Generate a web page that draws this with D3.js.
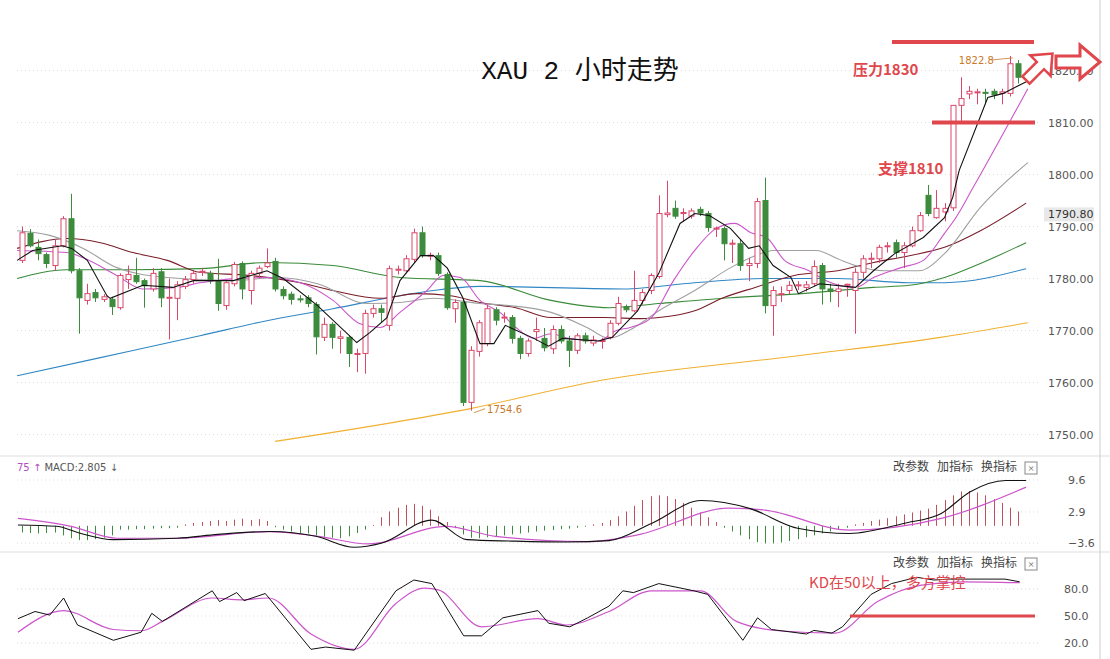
<!DOCTYPE html>
<html><head><meta charset="utf-8">
<script src="https://cdn.jsdelivr.net/npm/d3@7/dist/d3.min.js"></script>
<style>body{margin:0;background:#fff}svg{display:block}</style>
</head><body>
<svg id="c" width="1110" height="659"></svg>
<script>
// ---- DATA ----
const candles = [ // [open, high, low, close]
[1783.5,1790,1783,1788.8],[1788.7,1789.5,1786,1786.3],[1786,1787.5,1783.5,1784.8],[1784.6,1785,1782,1782.9],
[1782.5,1787.5,1781.5,1786.3],[1786.3,1792,1786,1791.5],[1791.5,1796.3,1781,1781.5],[1781.5,1782,1769.4,1776.3],
[1775.8,1779,1775,1777.1],[1777.3,1778,1775.5,1776.3],[1776,1777,1775.5,1776.5],[1776,1776.5,1773,1774.6],
[1774.4,1781,1774,1780.6],[1779.8,1782.5,1778,1780.8],[1780.6,1784,1779,1779.4],[1779.6,1780,1774.4,1778.6],
[1778,1782,1777.5,1781],[1781.3,1782,1774.5,1776.3],[1776.2,1780,1768.3,1776.4],[1776.2,1779.5,1772,1778.8],
[1778.5,1780.5,1778,1779.8],[1779.8,1781.5,1779,1781],[1781.2,1782,1780.5,1781.4],[1781,1781.5,1779,1779.6],
[1779.6,1783.8,1773.8,1775.2],[1774.8,1779.5,1774,1779.2],[1779,1783.2,1778.5,1782.7],[1782.9,1783.3,1776,1778],
[1777.7,1781.5,1775,1781],[1781,1782.5,1780,1782],[1782.3,1785.8,1782,1783],[1783.3,1784,1777.5,1778],
[1777.9,1778.5,1776,1776.7],[1777,1777.5,1775,1776],[1776.1,1776.8,1775.4,1776],[1776.3,1776.8,1774.5,1775.2],
[1775,1775.5,1765.4,1768.8],[1768.7,1772.5,1768,1771.2],[1771.2,1771.6,1766.5,1768.7],[1768.5,1770,1765.6,1768.8],
[1768.7,1769,1763,1765.6],[1765.4,1766.5,1762,1765.6],[1765.6,1774,1761.7,1773.3],[1773.3,1775,1772.5,1774.2],
[1774.2,1775,1771.5,1773.5],[1771,1782.5,1770,1781.9],[1781.6,1782.5,1780.8,1781.8],[1781.5,1784.5,1781,1783.8],
[1783.7,1789.6,1783,1788.8],[1788.8,1790,1784,1784.4],[1784.3,1785,1783.5,1784.5],[1784.4,1785,1780.5,1781],
[1780.8,1781.2,1774,1774.4],[1774.2,1776,1771.5,1775.4],[1775.4,1776,1755.5,1756.2],[1756.2,1767,1754.6,1766.2],
[1766,1772,1765,1771.5],[1767.5,1775,1767,1774.2],[1774,1774.5,1771,1772],[1772.4,1773.5,1771.5,1772.6],
[1772.5,1773,1767.5,1768.5],[1768.5,1769,1764.5,1765.6],[1765.6,1768.5,1765,1768],[1769.8,1772.5,1768,1770.2],
[1768.5,1770.5,1766,1766.7],[1766.5,1771,1765.5,1770.2],[1770.2,1771,1767.5,1768],[1768,1769,1763,1766.2],
[1766.2,1769.5,1765.5,1769],[1769,1769.6,1767.5,1768],[1767.6,1769,1767,1768.2],[1767.9,1768.6,1766.5,1768.1],
[1768.7,1772,1768.3,1771.4],[1771.4,1776.5,1771,1775.2],[1774.6,1775,1773.5,1774],[1773.8,1781.5,1773.5,1775.8],
[1775.8,1778,1775,1777.3],[1777.7,1781,1777,1780.6],[1780.4,1796,1780,1792.5],[1792.3,1798.8,1791.8,1792.6],
[1793.5,1795,1791.5,1792],[1792.5,1793.5,1791,1792.7],[1792,1793.5,1791.5,1793],[1793.3,1793.8,1792,1792.6],
[1792.5,1793,1789,1789.8],[1789.5,1790,1788,1789.7],[1789.6,1790,1783.5,1786.7],[1786.6,1787.5,1783,1786.8],
[1786.7,1787.5,1781.5,1782.5],[1782.5,1784,1779.5,1782.9],[1782.9,1795.5,1782,1794.8],[1795,1799.4,1773.3,1774.8],
[1774.8,1778.5,1769,1777.7],[1777,1778.5,1775.5,1777.1],[1777.7,1779.5,1777,1778.7],[1778.6,1779.5,1777.8,1778.8],
[1778.3,1779.5,1777.5,1778.8],[1779,1783.5,1778.5,1782.3],[1782.5,1783,1775,1778],[1778,1779,1775.5,1777.5],
[1777.5,1779,1774.5,1778],[1778.7,1779,1776.5,1778.9],[1777.7,1782,1769.4,1781.2],[1781.2,1784.5,1780,1783.8],
[1783.7,1785,1782,1783.9],[1783.8,1786.5,1783,1786],[1786.2,1787,1785,1786.3],[1786.9,1787.5,1784,1785],
[1785,1787,1782,1786.3],[1786.3,1790,1786,1789.2],[1789.2,1792.8,1789,1792.1],[1796,1798,1792,1792.5],
[1791.7,1797,1791.5,1793.5],[1792.8,1794.5,1791,1793.5],[1793.6,1813.3,1793,1813.3],[1813.3,1818.7,1810,1814.6],
[1815.5,1817,1814.5,1816],[1815.7,1816.5,1813.5,1815.9],[1815.8,1816.5,1813.5,1815.7],[1816,1816.5,1814.5,1815.3],
[1815.6,1816.5,1813.5,1815.9],[1815.6,1822.8,1815,1821.3],[1821.3,1822,1817.5,1818.7]
];
const ma5 = [[-0.6,1783.5],[1.3,1785.4],[4.9,1786.3],[6.1,1785.8],[8,1783.5],[10.4,1776.7],[10.8,1776.2],[14.8,1778.7],[18.5,1778.3],[21,1779.6],[25.9,1779.6],[30,1781.5],[32,1780],[36.2,1774.8],[41,1767.7],[42.6,1769.6],[44.7,1772.5],[46.3,1779.6],[48.8,1784.4],[50.4,1784.4],[52.1,1782],[54,1776.3],[56.1,1767.5],[57.8,1767.5],[59.2,1771],[62.7,1768.5],[64.5,1767],[66.2,1768.5],[70.6,1768],[72.3,1768.7],[75.4,1773.8],[78,1781],[80.6,1790.6],[82.4,1792.5],[84.2,1792.1],[86.8,1789.6],[89,1785.8],[90.3,1786.3],[92,1782.5],[94.2,1780.2],[95.1,1777.1],[97.7,1779],[102.1,1778.3],[104.3,1781.5],[106.9,1784.8],[110.4,1787.9],[113,1791.7],[114,1795.6],[114.8,1800.8],[118.3,1814.8],[120.2,1815.6],[123.2,1818]];
const ma10 = [[-0.6,1785.4],[5.5,1785],[7.5,1784],[11.6,1780.6],[14.8,1778],[19,1778.3],[21.8,1779.2],[30,1780.2],[34.1,1779.2],[38.1,1775.8],[41.4,1771.3],[43.9,1770.6],[46.3,1773.5],[49.6,1777.7],[51.6,1780.6],[53.7,1780.2],[56.1,1775.8],[58.7,1773.3],[60.5,1770.6],[62.7,1768.5],[64.8,1769.4],[67,1768.5],[70.6,1768],[72.8,1770],[74.5,1770.6],[77.1,1772.5],[79.8,1779.6],[82.4,1785.4],[85,1789.6],[87.3,1790.6],[89.3,1788.8],[91.2,1787.9],[93.4,1783.5],[96.4,1781.5],[98.5,1779.6],[102.1,1778.3],[104.3,1780.2],[107.7,1782.1],[110.4,1783.5],[113,1788.7],[114.3,1791.5],[116.5,1797.5],[123.2,1816.5]];
const ma20 = [[-0.6,1789.2],[3.4,1788.3],[7.5,1785.8],[11.6,1782.1],[17.8,1780.2],[25.9,1779.6],[31.3,1780.2],[36.2,1779],[42.3,1775.2],[46.3,1775.4],[50.4,1776.2],[56.1,1775.2],[59.7,1774.8],[64.8,1773.5],[69.2,1770.6],[71.9,1768.5],[75,1770.6],[78,1773.8],[82.4,1777.7],[86.8,1782.1],[89.8,1784.4],[92,1785.4],[97.3,1785.4],[99.9,1783.8],[102.1,1782.5],[105.6,1781.5],[109.9,1781.5],[113,1784.8],[117.4,1793.7],[123.2,1802.3]];
const ma30 = [[-0.6,1785.8],[5.5,1787.7],[9.6,1786.9],[13.6,1785],[17.8,1783.5],[21.8,1781.2],[27.9,1780.6],[34.1,1779.2],[38.1,1777.7],[43.9,1776.2],[48.4,1777.1],[52.5,1776.7],[56.1,1775.4],[60.5,1774.4],[64.8,1772.5],[71.4,1772.5],[75.9,1772.3],[78,1772.5],[82.4,1773.8],[85.9,1776.3],[89.8,1778.3],[94.6,1780.6],[99.9,1781.5],[104.3,1783.1],[108.7,1784.4],[113,1786],[117.4,1789.2],[123,1794.5]];
const ma60 = [[-0.6,1780],[5.5,1781.7],[13.6,1781.7],[21.8,1781.9],[30,1783.1],[38.1,1782.5],[46.3,1780.2],[56.1,1779.6],[64.8,1775.8],[71.9,1774.4],[78,1775.2],[86.8,1776.3],[95.5,1777.1],[104.3,1778.3],[108.7,1778.7],[113,1780.2],[117.4,1782.9],[123,1786.9]];
const ma120 = [[-0.6,1761.3],[9.6,1764.8],[21.8,1769],[30,1771.9],[38.1,1774.2],[46.3,1776.7],[50.4,1777.7],[56.1,1778.5],[73.7,1778],[82.4,1779.2],[91.2,1780],[99.9,1780],[108.7,1779.2],[113,1779.2],[123,1781.9]];
const ma250 = [[31,1748.7],[54.9,1755],[70.8,1760.4],[95.3,1765.2],[112.5,1768.7],[123.2,1771.5]];
const priceTicks = [1820,1810,1800,1790,1780,1770,1760,1750];
const lastPrice = 1790.80;
const resistanceLevel = 1825.5;
const supportLevel = 1810;
const macdHist = [-1.4,-1.5,-1.6,-1.5,-1.4,-2.0,-2.6,-3.0,-3.0,-2.8,-2.5,-2.0,-0.8,-0.8,-0.7,-0.7,-0.6,-0.5,-0.5,-0.4,
0.3,0.6,0.8,1.0,1.2,1.0,1.3,1.5,1.2,1.4,1.0,-0.3,-0.8,-1.2,-1.5,-1.6,-2.0,-2.3,-2.5,-2.6,
-2.2,-1.5,-0.8,0.2,1.8,3.0,3.8,4.4,4.6,4.2,3.4,2.0,0.8,-0.5,-1.8,-2.5,-2.6,-2.4,-2.2,-2.0,
-1.8,-1.6,-1.4,-1.2,-1.0,-0.9,-0.7,-0.6,-0.4,-0.2,0.3,0.6,1.2,2.0,3.0,4.2,5.4,6.2,6.4,6.2,
5.6,4.8,3.8,2.8,1.8,0.8,-0.4,-1.2,-2.0,-2.8,-3.4,-3.7,-3.7,-3.5,-3.2,-2.8,-2.4,-2.0,-1.6,-1.2,
-0.8,-0.4,0.3,0.6,1.0,1.3,1.6,2.0,2.4,2.8,3.2,3.6,4.4,5.4,6.4,7.2,7.3,7.0,6.4,5.6,
4.8,3.8,3.0];
const dif = [[-0.5,0.17],[4.2,-0.1],[7,-1.5],[11.2,-2.9],[19,-2.6],[24,-1.8],[30.3,-1.2],[36,-2.2],[40.7,-4.5],[44.1,-3.6],[50.2,1.2],[54.5,-2.9],[60,-3.2],[66.7,-3.4],[71.9,-3.1],[77.1,0.5],[83.2,5.3],[89.2,3.6],[95,-0.5],[101.4,-1.6],[108,0.5],[112.6,2.6],[116.1,7.1],[120.5,9.5],[123,9.5]];
const dea = [[-0.5,1.55],[6,-0.1],[11.6,-2.6],[19,-2.6],[30.3,-1.2],[36.3,-2.2],[42.4,-3.8],[51.9,-0.1],[58,-2.2],[69.3,-3.3],[75.4,-1.9],[86.6,3.7],[91,3.3],[101.4,-0.9],[112.6,1.55],[123,8.1]];
const macdTicks = [9.6,2.9,-3.6];
const kLine = [[-0.5,47],[1.6,55],[3.4,51],[5.1,70],[6.8,40],[11.2,23],[14.6,32],[15.9,53],[17.2,44],[23.3,78],[24.2,66],[26.3,76],[27.2,67],[29.8,75],[35.4,13],[37.2,15.5],[40.7,12],[45.8,78],[48,90],[50.2,86],[54.1,28],[56.3,28],[58.9,48],[63.2,56],[64.5,42],[67.1,38],[69.3,48],[71.9,61],[73.6,78],[74.9,76],[78,86],[82.3,78],[84,74],[88.3,23],[90.1,48],[91.8,35],[96.1,30],[97,34],[99.2,31],[100.5,38],[104,74],[106.5,86],[109.6,93],[111.7,90],[113.5,91],[120.4,91],[122.2,88]];
const dLine = [[-0.5,32],[5.1,56],[11.2,35],[14.6,33.6],[17.2,44],[23.3,70],[26.8,68],[30.2,70],[35.4,30],[40.7,13],[45.8,64],[49.3,81],[51,79],[56.3,38],[63.2,47],[66.7,40],[71.9,55],[77.1,78],[83.1,78],[87.5,44],[92.7,33.6],[99.6,31],[104.8,66],[110,84],[115.2,88],[122.2,87]];
const kdTicks = [80,50,20];

// ---- DRAW ----
const svg = d3.select('#c');
const UP='#d9476a', DN='#3d8b3d';
const x = d3.scaleLinear().domain([0, candles.length-1]).range([22,1018]);
const y = d3.scaleLinear().domain([1750,1820]).range([434.6,70.5]);
const ym = d3.scaleLinear().domain([-3.6,9.6]).range([543,480]);
const yk = d3.scaleLinear().domain([20,80]).range([643,589]);

[456,552].forEach(yy=>svg.append('line').attr('x1',0).attr('x2',1110).attr('y1',yy).attr('y2',yy).attr('stroke','#ddd'));
svg.append('line').attr('x1',1100).attr('x2',1100).attr('y1',0).attr('y2',659).attr('stroke','#ccc');

function grid(scale, ticks){ ticks.forEach(t=>svg.append('line').attr('x1',17).attr('x2',1040).attr('y1',scale(t)).attr('y2',scale(t)).attr('stroke','#ddd').attr('stroke-dasharray','1,3')); }
grid(y, priceTicks); grid(ym, macdTicks); grid(yk, kdTicks);

const ax = svg.append('g').attr('transform','translate(1040,0)');
ax.call(d3.axisRight(y).tickValues(priceTicks).tickSize(0).tickPadding(8).tickFormat(d3.format('.2f')));
ax.select('.domain').remove();
ax.selectAll('text').attr('fill','#555').attr('font-size',11).attr('font-family','DejaVu Sans');
svg.append('rect').attr('x',1044).attr('y',y(lastPrice)-15).attr('width',50).attr('height',14).attr('fill','#e8e8e8');
svg.append('text').attr('x',1048).attr('y',y(lastPrice)-4).attr('font-size',11).attr('fill','#333').attr('font-family','DejaVu Sans').text(d3.format('.2f')(lastPrice));

const am = svg.append('g').attr('transform','translate(1040,0)');
am.call(d3.axisRight(ym).tickValues(macdTicks).tickSize(0).tickPadding(28).tickFormat(d3.format('.1f')));
const ak = svg.append('g').attr('transform','translate(1040,0)');
ak.call(d3.axisRight(yk).tickValues(kdTicks).tickSize(0).tickPadding(24).tickFormat(d3.format('.1f')));
[am,ak].forEach(a=>{a.select('.domain').remove();a.selectAll('text').attr('fill','#555').attr('font-size',11).attr('font-family','DejaVu Sans');});

const lineP = (curve)=>d3.line().x(d=>x(d[0])).y(d=>y(d[1])).curve(curve);
[[ma250,'#f0b030'],[ma120,'#2f87c4'],[ma60,'#3a8a3a'],[ma30,'#7a1f2a'],[ma20,'#a0a0a0'],[ma10,'#cc55cc']].forEach(([d,c])=>
  svg.append('path').attr('d',lineP(d3.curveMonotoneX)(d)).attr('fill','none').attr('stroke',c).attr('stroke-width',1.1));

const cw = 5;
const g = svg.append('g');
candles.forEach((c,i)=>{
  const [o,h,l,cl]=c; const up = cl>=o; const col = up?UP:DN;
  const cx = Math.round(x(i))+0.5;
  const top = y(Math.max(o,cl)), bot = y(Math.min(o,cl));
  g.append('line').attr('x1',cx).attr('x2',cx).attr('y1',y(h)).attr('y2',top).attr('stroke',col);
  g.append('line').attr('x1',cx).attr('x2',cx).attr('y1',bot).attr('y2',y(l)).attr('stroke',col);
  g.append('rect').attr('x',cx-cw/2).attr('y',top).attr('width',cw).attr('height',Math.max(1,bot-top))
   .attr('fill',up?'#fff':DN).attr('stroke',col).attr('stroke-width',1);
});
svg.append('path').attr('d',lineP(d3.curveLinear)(ma5)).attr('fill','none').attr('stroke','#111').attr('stroke-width',1.1);

function note(i, price, label, dx, dy){
  const px=x(i), py=y(price);
  svg.append('line').attr('x1',px+3).attr('y1',py+(dy>0?2:-2)).attr('x2',px+dx-2).attr('y2',py+dy-4).attr('stroke','#c87a2a').attr('stroke-width',0.8);
  svg.append('text').attr('x',px+dx).attr('y',py+dy).attr('font-size',10).attr('fill','#c87a2a').attr('font-family','DejaVu Sans').text(label)
   .attr('text-anchor',dx<0?'end':'start');
}
note(55,1754.6,'1754.6',16,2);
note(121,1822.8,'1822.8',-16,8);

svg.append('text').attr('x',580).attr('y',79).attr('text-anchor','middle').attr('font-size',26)
  .attr('font-family','Liberation Mono, Noto Sans CJK SC').attr('fill','#111').text('XAU 2 小时走势');

const RED='#e0474c';
svg.append('line').attr('x1',892).attr('x2',1034).attr('y1',y(resistanceLevel)).attr('y2',y(resistanceLevel)).attr('stroke',RED).attr('stroke-width',4);
svg.append('line').attr('x1',932).attr('x2',1035).attr('y1',y(supportLevel)).attr('y2',y(supportLevel)).attr('stroke',RED).attr('stroke-width',4);
svg.append('text').attr('x',853).attr('y',75).attr('font-size',15).attr('font-weight','bold').attr('fill',RED).attr('font-family','Noto Sans CJK SC').text('压力1830');
svg.append('text').attr('x',878).attr('y',174).attr('font-size',15).attr('font-weight','bold').attr('fill',RED).attr('font-family','Noto Sans CJK SC').text('支撑1810');
const arrow = 'M0,-6 L24,-6 L24,-17 L44,0 L24,17 L24,6 L0,6 Z';
svg.append('path').attr('d',arrow).attr('transform','translate(1056,62)').attr('fill','#fff').attr('stroke',RED).attr('stroke-width',3);
svg.append('path').attr('d',arrow).attr('transform','translate(1026,80) rotate(-45) scale(0.85)').attr('fill','#fff').attr('stroke',RED).attr('stroke-width',3);

svg.append('text').attr('x',17).attr('y',471).attr('font-size',10).attr('font-family','DejaVu Sans')
  .html('<tspan fill="#b04cc0">75 ↑</tspan><tspan fill="#555"> MACD:2.805 ↓</tspan>');
['改参数','加指标','换指标'].forEach((t,i)=>{
  [471,567].forEach(yy=>svg.append('text').attr('x',893+i*44).attr('y',yy).attr('font-size',12).attr('fill','#444').attr('font-family','Noto Sans CJK SC').text(t));
});
[462,558].forEach(yy=>{
  svg.append('rect').attr('x',1025).attr('y',yy).attr('width',12).attr('height',12).attr('fill','#fff').attr('stroke','#888');
  svg.append('text').attr('x',1031).attr('y',yy+10).attr('text-anchor','middle').attr('font-size',11).attr('fill','#666').text('×');
});
macdHist.forEach((v,i)=>{
  const cx=Math.round(x(i))+0.5;
  svg.append('line').attr('x1',cx).attr('x2',cx).attr('y1',ym(0)).attr('y2',ym(v)).attr('stroke',v>=0?'#c0505a':'#3d8b3d').attr('stroke-width',1);
});
const lineM = d3.line().x(d=>x(d[0])).y(d=>ym(d[1])).curve(d3.curveMonotoneX);
svg.append('path').attr('d',lineM(dea)).attr('fill','none').attr('stroke','#cc55cc').attr('stroke-width',1.2);
svg.append('path').attr('d',lineM(dif)).attr('fill','none').attr('stroke','#111').attr('stroke-width',1.1);

const lineK = d3.line().x(d=>x(d[0])).y(d=>yk(d[1])).curve(d3.curveMonotoneX);
svg.append('path').attr('d',lineK(dLine)).attr('fill','none').attr('stroke','#cc55cc').attr('stroke-width',1.2);
svg.append('path').attr('d',d3.line().x(d=>x(d[0])).y(d=>yk(d[1]))(kLine)).attr('fill','none').attr('stroke','#111').attr('stroke-width',1);
svg.append('line').attr('x1',850).attr('x2',1035).attr('y1',yk(50)).attr('y2',yk(50)).attr('stroke',RED).attr('stroke-width',3);
svg.append('text').attr('x',809).attr('y',588).attr('font-size',15).attr('fill',RED).attr('font-family','Noto Sans CJK SC').text('KD在50以上，多方掌控');
</script>
</body></html>
